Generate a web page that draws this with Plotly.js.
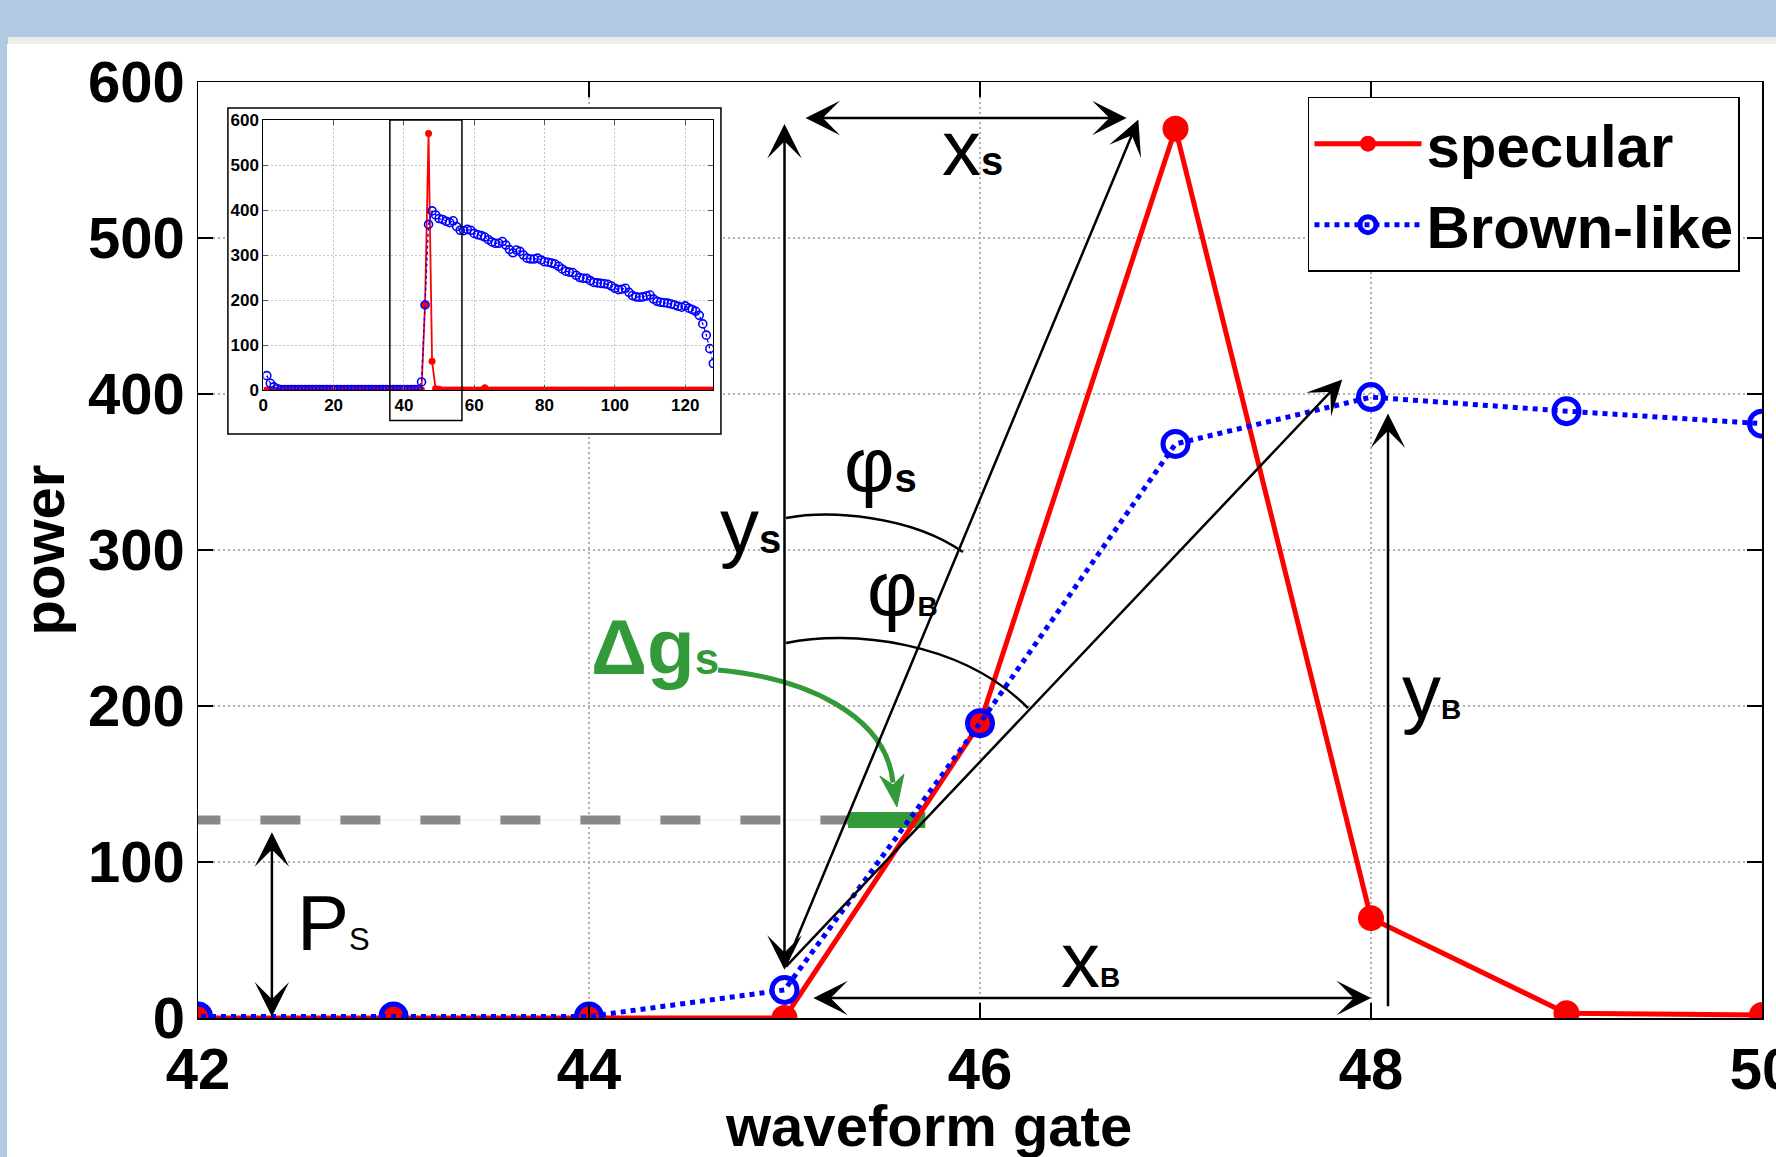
<!DOCTYPE html>
<html>
<head>
<meta charset="utf-8">
<script src="https://cdn.plot.ly/plotly-3.0.1.min.js"></script>
<style>
html,body{margin:0;padding:0;background:#b2c9e3;}
#chart{width:1776px;height:1157px;}
</style>
</head>
<body>
<div id="chart"></div>
<script>
// ---------- data ----------
const gates = [1,2,3,4,5,6,7,8,9,10,11,12,13,14,15,16,17,18,19,20,
  21,22,23,24,25,26,27,28,29,30,31,32,33,34,35,36,37,38,39,40,
  41,42,43,44,45,46,47,48,49,50,51,52,53,54,55,56,57,58,59,60,
  61,62,63,64,65,66,67,68,69,70,71,72,73,74,75,76,77,78,79,80,
  81,82,83,84,85,86,87,88,89,90,91,92,93,94,95,96,97,98,99,100,
  101,102,103,104,105,106,107,108,109,110,111,112,113,114,115,116,117,118,119,120,
  121,122,123,124,125,126,127,128];

const specular = [0,0,0,0,0,0,0,0,0,0,0,0,0,0,0,0,0,0,0,0,
  0,0,0,0,0,0,0,0,0,0,0,0,0,0,0,0,0,0,0,0,
  0,0,0,0,0,189,570,64,3,2,0,0,0,0,0,0,0,0,0,0,
  0,0,5,0,0,0,0,0,0,0,0,0,0,0,0,0,0,0,0,0,
  0,0,0,0,0,0,0,0,0,0,0,0,0,0,0,0,0,0,0,0,
  0,0,0,0,0,0,0,0,0,0,0,0,0,0,0,0,0,0,0,0,
  0,0,0,0,0,0,0,0];

const brownLike = [32,15,7,3,1,1,1,1,1,1,1,1,1,1,1,1,1,1,1,1,
  1,1,1,1,1,1,1,1,1,1,1,1,1,1,1,1,1,1,1,1,
  1,1,1,1,18,189,368,398,389,381,379,375,372,376,363,355,354,357,355,348,
  345,343,340,334,329,326,326,330,322,312,305,311,308,300,293,291,291,293,289,285,
  284,282,280,275,269,264,262,261,255,250,248,248,243,239,238,237,236,235,231,226,
  223,224,226,217,210,207,206,207,209,211,202,197,195,194,193,191,189,186,184,187,
  182,179,175,166,147,122,92,59];

const mainXTicks = [42,44,46,48,50];
const mainYTicks = [0,100,200,300,400,500,600];
const insetXTicks = [0,20,40,60,80,100,120];
const insetYTicks = [0,100,200,300,400,500,600];
const seriesNames = ['specular','Brown-like'];
const xTitle = 'waveform gate';
const yTitle = 'power';

// ---------- styling ----------
const FONT = 'Liberation Sans, Arial, Helvetica, sans-serif';
const RED = '#ff0000', BLUE = '#0000ff', GREEN = '#339a3a';

const traces = [
  {x:gates, y:specular, name:seriesNames[0], type:'scatter', mode:'lines+markers',
   xaxis:'x', yaxis:'y', line:{color:RED, width:5}, marker:{color:RED, size:26}},
  {x:gates, y:brownLike, name:seriesNames[1], type:'scatter', mode:'lines+markers',
   xaxis:'x', yaxis:'y', line:{color:BLUE, width:5, dash:'dot'},
   marker:{color:BLUE, size:25, symbol:'circle-open', line:{width:5, color:BLUE}}},
  {x:gates, y:specular, name:seriesNames[0], type:'scatter', mode:'lines+markers', showlegend:false,
   xaxis:'x2', yaxis:'y2', line:{color:RED, width:1.8}, marker:{color:RED, size:7}},
  {x:gates, y:brownLike, name:seriesNames[1], type:'scatter', mode:'lines+markers', showlegend:false,
   xaxis:'x2', yaxis:'y2', line:{color:BLUE, width:1.3, dash:'dot'},
   marker:{color:BLUE, size:8, symbol:'circle-open', line:{width:1.6, color:BLUE}}}
];

const tickFont = {family:FONT, size:58, color:'black', weight:'bold'};
const insetFont = {family:FONT, size:17, color:'black', weight:'bold'};
const titleFont = {family:FONT, size:58, color:'black', weight:'bold'};

function mainAxis(range, vals, title, standoff){
  return {range:range, tickmode:'array', tickvals:vals, ticktext:vals.map(String),
    showline:true, linecolor:'black', linewidth:1.5, mirror:'ticks',
    ticks:'inside', ticklen:15, tickwidth:1.5, tickcolor:'black',
    showgrid:true, gridcolor:'#b0b0b0', griddash:'2px,3px', gridwidth:1.2,
    zeroline:false, tickfont:tickFont, automargin:false, fixedrange:true,
    ticklabeloverflow:'allow',
    title:{text:title, font:titleFont, standoff:standoff}};
}
function insetAxis(dom, range, vals, anchor){
  return {domain:dom, anchor:anchor, range:range, tickmode:'array', tickvals:vals, ticktext:vals.map(String),
    showline:true, linecolor:'black', linewidth:1, mirror:'ticks',
    ticks:'inside', ticklen:5, tickwidth:1, tickcolor:'#555',
    showgrid:true, gridcolor:'#c4c4c4', griddash:'2px,2px', gridwidth:1,
    zeroline:false, tickfont:insetFont, automargin:false, fixedrange:true};
}

const HEAD = 2.3;
const arrowBase = {xref:'x', yref:'y', axref:'x', ayref:'y', text:'', showarrow:true,
  arrowcolor:'black', arrowwidth:2.5, arrowhead:3, arrowsize:HEAD, standoff:0, startstandoff:0};
function arrow(x, y, ax, ay, both){
  const a = Object.assign({}, arrowBase, {x:x, y:y, ax:ax, ay:ay});
  if(both){ a.arrowside = 'end+start'; a.startarrowhead = 3; a.startarrowsize = HEAD; }
  return a;
}
function label(x, y, text, size, color){
  return {xref:'x', yref:'y', x:x, y:y, xanchor:'left', yanchor:'bottom', showarrow:false,
    text:text, font:{family:FONT, size:size, color:color||'black'}};
}
const subS = "<span style='font-size:40px'><b>s</b></span>";
const subB = "<span style='font-size:28px'><b>B</b></span>";

const annotations = [
  arrow(45, 31, 45, 574, true),            // y_s
  arrow(46.75, 577, 45.10, 577, true),     // x_s
  arrow(46.81, 576, 45.0, 32, false),      // diagonal to specular peak
  arrow(47.853, 409.3, 45.0, 32, false),   // diagonal to Brown peak
  arrow(48.0, 12.8, 45.14, 12.8, true),    // x_B
  arrow(48.087, 387.5, 48.087, 6.6, false),// y_B
  arrow(42.378, 119, 42.378, 0, true),     // P_s
  label(45.795, 527.9, 'x' + subS, 78),
  label(44.660, 285.6, 'y' + subS, 78),
  label(45.294, 325.3, '\u03c6' + subS, 78),
  label(45.412, 245.4, '\u03c6' + subB, 78),
  label(44.0, 208.3, "<b>\u0394g</b><span style='font-size:44px'><b>s</b></span>", 78, GREEN),
  label(48.148, 179.2, 'y' + subB, 78),
  label(46.404, 7.4, 'x' + subB, 78),
  label(42.496, 31.1, "P<span style='font-size:31px'>S</span>", 78),
  // x-axis title, placed where the reference has it
  {xref:'paper', yref:'paper', x:0.4668, y:-0.1517, xanchor:'center', yanchor:'bottom',
   showarrow:false, text:xTitle, font:titleFont}
];

const shapes = [
  // window frame behind the figure
  {type:'rect', xref:'paper', yref:'paper', x0:-0.1215, x1:1.02, y0:-0.16, y1:1.0481,
   fillcolor:'#eeeee8', line:{width:0}, layer:'below'},
  {type:'rect', xref:'paper', yref:'paper', x0:-0.1221, x1:1.02, y0:-0.16, y1:1.0406,
   fillcolor:'#ffffff', line:{width:0}, layer:'below'},
  // opaque frame of the inset figure
  {type:'rect', xref:'x', yref:'y', x0:42.153, x1:44.675, y0:374.4, y1:583.3,
   fillcolor:'#ffffff', line:{color:'black', width:1.5}, layer:'between'},
  // threshold level
  {type:'line', xref:'x', yref:'y', x0:42, x1:45.33, y0:127, y1:127,
   line:{color:'#dcefdc', width:1}, layer:'between'},
  {type:'line', xref:'x', yref:'y', x0:41.91, x1:45.33, y0:127, y1:127,
   line:{color:'#87878b', width:9, dash:'40px,40px'}, layer:'between'},
  {type:'line', xref:'x', yref:'y', x0:45.325, x1:45.72, y0:127, y1:127,
   line:{color:GREEN, width:16}, layer:'between'},
  // angle arcs
  {type:'path', xref:'x', yref:'y', path:'M45.008,320.5 C45.233,325.6 45.642,322.4 45.913,298.7',
   line:{color:'black', width:2.5}, layer:'above'},
  {type:'path', xref:'x', yref:'y', path:'M45.008,240.4 C45.335,248.7 45.898,242.3 46.246,198.7',
   line:{color:'black', width:2.5}, layer:'above'},
  // green curved arrow
  {type:'path', xref:'x', yref:'y', path:'M44.660,223.1 C45.110,217.9 45.519,194.2 45.555,151.0',
   line:{color:GREEN, width:5}, layer:'above'},
  {type:'path', xref:'x', yref:'y', path:'M45.488,155.1 L45.575,135.3 L45.611,156.4 L45.555,149.4 Z',
   fillcolor:GREEN, line:{color:GREEN, width:1}, layer:'above'},
  // zoom window in the inset
  {type:'rect', xref:'x2', yref:'y2 domain', x0:36, x1:56.5, y0:-0.113, y1:1,
   line:{color:'black', width:1.5}, fillcolor:'rgba(0,0,0,0)', layer:'above'}
];

const layout = {
  width:1776, height:1157, autosize:false,
  margin:{l:198, r:14, t:82, b:139, pad:0},
  paper_bgcolor:'#b2c9e3', plot_bgcolor:'#ffffff',
  font:{family:FONT, color:'black'},
  xaxis:mainAxis([42,50], mainXTicks, '', 8),
  yaxis:mainAxis([0,600], mainYTicks, yTitle, 5),
  xaxis2:insetAxis([0.04175,0.3295],[0,128], insetXTicks, 'y2'),
  yaxis2:insetAxis([0.6709,0.9594],[0,600], insetYTicks, 'x2'),
  showlegend:true,
  legend:{x:0.7097, y:0.9843, xanchor:'left', yanchor:'top', bgcolor:'#ffffff',
    bordercolor:'black', borderwidth:1.5, itemwidth:107, tracegroupgap:0,
    font:{family:FONT, size:60, color:'black', weight:'bold'}},
  shapes:shapes,
  annotations:annotations
};

Plotly.newPlot('chart', traces, layout, {displayModeBar:false, staticPlot:true});
</script>
</body>
</html>
